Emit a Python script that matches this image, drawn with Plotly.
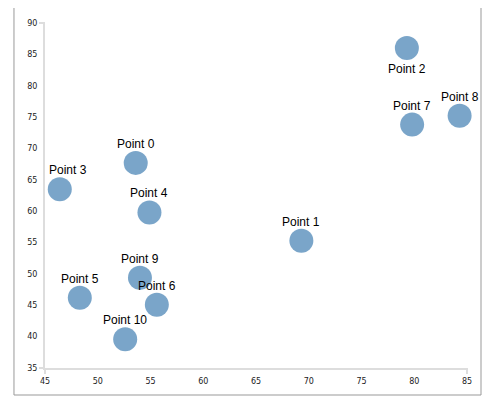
import plotly.graph_objects as go

labels = ["Point 0", "Point 1", "Point 2", "Point 3", "Point 4", "Point 5",
          "Point 6", "Point 7", "Point 8", "Point 9", "Point 10"]
xs = [53.6, 69.3, 79.3, 46.4, 54.9, 48.3, 55.6, 79.8, 84.3, 54.0, 52.6]
ys = [67.7, 55.3, 86.0, 63.5, 59.8, 46.2, 45.1, 73.8, 75.2, 49.4, 39.6]
label_below = [False, False, True, False, False, False, False, False, False, False, False]

x_ticks = [45, 50, 55, 60, 65, 70, 75, 80, 85]
y_ticks = [35, 40, 45, 50, 55, 60, 65, 70, 75, 80, 85, 90]

fig = go.Figure(go.Scatter(
    x=xs, y=ys, mode="markers",
    marker=dict(size=24, color="rgba(70,130,180,0.72)", line=dict(width=0)),
    cliponaxis=False, hoverinfo="skip"))

annotations = []
for lab, xv, yv, below in zip(labels, xs, ys, label_below):
    annotations.append(dict(
        x=xv, y=yv, xref="x", yref="y", text=lab, showarrow=False,
        xanchor="center", yanchor="middle",
        xshift=0, yshift=-21 if below else 19,
        font=dict(family="Liberation Sans, Arial", size=12, color="#000")))
# keep the left-most label inside the plot
for a in annotations:
    if a["x"] < 47.5:
        a["xanchor"] = "left"
        a["xshift"] = 0
        a["x"] = 45.2

axis_common = dict(showgrid=False, zeroline=False, showline=True, linecolor="#dddddd",
                   linewidth=2, ticks="", layer="below traces",
                   tickfont=dict(family="DejaVu Sans", size=8, color="#222"))
fig.update_xaxes(range=[45, 85], tickvals=x_ticks, ticklabelstandoff=4, **axis_common)
fig.update_yaxes(range=[35, 90], tickvals=y_ticks, ticklabelstandoff=4, **axis_common)

shapes = [
    dict(type="rect", xref="paper", yref="paper", x0=-0.0735, x1=1.0332, y0=-0.0783, y1=1.0464,
         line=dict(color="#999999", width=1), layer="below"),
]
for yv in [0, 1]:
    shapes.append(dict(type="line", xref="paper", yref="paper", xsizemode="pixel", xanchor=0,
                       x0=-6, x1=0, y0=yv, y1=yv, line=dict(color="#dddddd", width=2)))
for xv in [0, 1]:
    shapes.append(dict(type="line", xref="paper", yref="paper", ysizemode="pixel", yanchor=0,
                       y0=-6, y1=0, x0=xv, x1=xv, line=dict(color="#dddddd", width=2)))

fig.update_layout(width=485, height=399, margin=dict(l=37, r=26, t=15, b=39),
                  paper_bgcolor="white", plot_bgcolor="white", showlegend=False,
                  shapes=shapes, annotations=annotations)
fig.write_html("out.html")
